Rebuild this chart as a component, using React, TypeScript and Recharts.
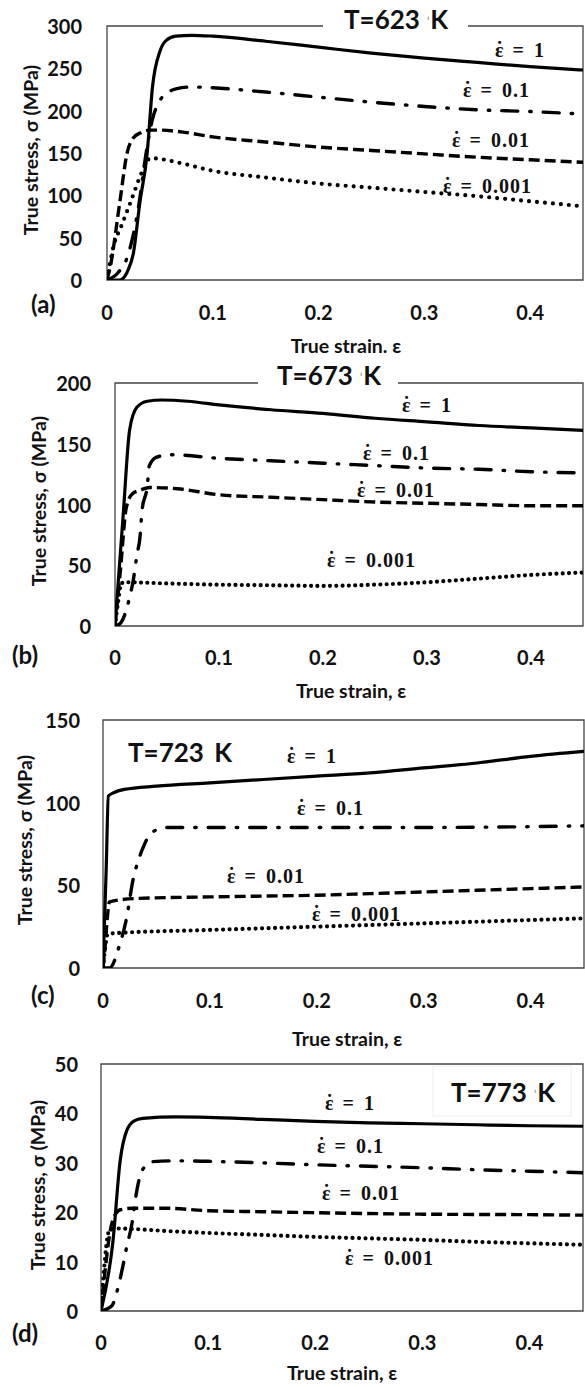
import React from "react";
import { LineChart, Line, XAxis, YAxis, ReferenceArea } from "recharts";

// ---------- data (true strain / true stress, MPa) ----------
const strainTicks = [0, 0.1, 0.2, 0.3, 0.4];
const rateLabels = ["1", "0.1", "0.01", "0.001"];

// (a) T = 623 K
const aStrain1 = [0, 0.012, 0.02, 0.025, 0.031, 0.038, 0.043, 0.05, 0.056, 0.065, 0.08, 0.1, 0.15, 0.2, 0.25, 0.3, 0.35, 0.4, 0.45];
const aStress1 = [0, 0, 12, 32, 91, 150, 228, 270, 283, 288, 289, 288, 282, 275, 268, 262, 257, 252, 248];
const aStrain2 = [0, 0.01, 0.02, 0.03, 0.037, 0.043, 0.05, 0.058, 0.066, 0.08, 0.1, 0.15, 0.2, 0.25, 0.3, 0.35, 0.4, 0.45];
const aStress2 = [0, 8, 30, 88, 150, 190, 212, 222, 226, 228, 227, 222, 216, 210, 205, 201, 199, 196];
const aStrain3 = [0, 0.003, 0.012, 0.019, 0.025, 0.032, 0.041, 0.05, 0.07, 0.1, 0.15, 0.2, 0.25, 0.3, 0.35, 0.4, 0.45];
const aStress3 = [0, 15, 91, 150, 168, 174, 177, 177, 175, 169, 163, 157, 153, 149, 145, 142, 139];
const aStrain4 = [0, 0.006, 0.014, 0.022, 0.034, 0.041, 0.05, 0.07, 0.1, 0.15, 0.2, 0.25, 0.3, 0.35, 0.4, 0.45];
const aStress4 = [0, 39, 65, 91, 130, 144, 143, 138, 129, 121, 114, 109, 104, 99, 93, 87];

// (b) T = 673 K
const bStrain1 = [0, 0.008, 0.014, 0.021, 0.031, 0.045, 0.07, 0.1, 0.15, 0.2, 0.25, 0.3, 0.35, 0.4, 0.45];
const bStress1 = [0, 93, 161, 180, 185, 186, 185, 182, 178, 175, 171, 168, 165, 163, 161];
const bStrain2 = [0, 0.005, 0.013, 0.018, 0.021, 0.024, 0.026, 0.031, 0.033, 0.04, 0.055, 0.1, 0.15, 0.2, 0.25, 0.3, 0.35, 0.4, 0.45];
const bStress2 = [0, 2, 20, 40, 58, 73, 95, 115, 132, 139, 141, 138, 136, 134, 132, 130, 129, 127, 126];
const bStrain3 = [0, 0.005, 0.011, 0.017, 0.025, 0.033, 0.06, 0.1, 0.15, 0.2, 0.25, 0.3, 0.35, 0.4, 0.45];
const bStress3 = [0, 44, 98, 109, 112, 114, 113, 108, 106, 104, 102, 101, 100, 99, 99];
const bStrain4 = [0, 0.003, 0.006, 0.01, 0.05, 0.1, 0.15, 0.2, 0.25, 0.3, 0.35, 0.4, 0.45];
const bStress4 = [0, 20, 35, 36, 35, 34, 33.5, 33, 34, 36, 39, 42, 44];

// (c) T = 723 K
const cStrain1 = [0, 0.003, 0.005, 0.01, 0.02, 0.05, 0.1, 0.15, 0.2, 0.25, 0.3, 0.35, 0.4, 0.45];
const cStress1 = [0, 60, 104, 106, 108, 110, 112, 114, 116, 118, 121, 124, 128, 131];
const cStrain2 = [0, 0.006, 0.016, 0.022, 0.028, 0.033, 0.037, 0.042, 0.046, 0.052, 0.06, 0.1, 0.2, 0.3, 0.4, 0.45];
const cStress2 = [0, 0, 15, 30, 53, 65, 72, 79, 82, 84, 85, 85, 85, 85, 85.5, 86];
const cStrain3 = [0, 0.002, 0.004, 0.006, 0.03, 0.1, 0.15, 0.2, 0.25, 0.3, 0.35, 0.4, 0.45];
const cStress3 = [0, 13, 30, 40, 42, 43, 43.5, 44, 45, 46, 47, 48, 49];
const cStrain4 = [0, 0.002, 0.004, 0.01, 0.1, 0.2, 0.3, 0.4, 0.45];
const cStress4 = [0, 12, 20, 21, 23, 25, 27, 29, 30];

// (d) T = 773 K
const dStrain1 = [0, 0.011, 0.018, 0.024, 0.031, 0.039, 0.07, 0.1, 0.15, 0.2, 0.25, 0.3, 0.35, 0.4, 0.45];
const dStress1 = [0, 13.8, 30.6, 36.5, 38.5, 39, 39.3, 39.2, 38.8, 38.4, 38.1, 37.9, 37.7, 37.5, 37.4];
const dStrain2 = [0, 0.01, 0.015, 0.021, 0.024, 0.029, 0.032, 0.036, 0.042, 0.047, 0.07, 0.1, 0.15, 0.2, 0.25, 0.3, 0.35, 0.4, 0.45];
const dStress2 = [0, 1, 4, 9.7, 13, 17.8, 22.5, 27, 29.5, 30.2, 30.4, 30.3, 30, 29.6, 29.3, 29, 28.6, 28.3, 28];
const dStrain3 = [0, 0.011, 0.018, 0.03, 0.06, 0.1, 0.15, 0.2, 0.3, 0.4, 0.45];
const dStress3 = [0, 18.4, 20.5, 20.8, 20.8, 20.3, 20.1, 19.9, 19.6, 19.5, 19.4];
const dStrain4 = [0, 0.008, 0.015, 0.03, 0.06, 0.1, 0.15, 0.2, 0.25, 0.3, 0.35, 0.4, 0.45];
const dStress4 = [0, 16.4, 16.7, 16.6, 16.2, 15.8, 15.4, 15, 14.7, 14.4, 14, 13.7, 13.4];

const aTicksY = [0, 50, 100, 150, 200, 250, 300];
const bTicksY = [0, 50, 100, 150, 200];
const cTicksY = [0, 50, 100, 150];
const dTicksY = [0, 10, 20, 30, 40, 50];

// ---------- helpers ----------
const SANS = "Lato, 'Open Sans', sans-serif";
const SERIF = "'Liberation Serif', 'DejaVu Serif', serif";
const zip = (xs: number[], ys: number[]) => xs.map((x, i) => ({ x, y: ys[i] }));

const styles = [
  { strokeWidth: 3.2, strokeDasharray: undefined as any, strokeLinecap: "round" },
  { strokeWidth: 3.4, strokeDasharray: "16 12 1.5 12", strokeLinecap: "round" },
  { strokeWidth: 3.4, strokeDasharray: "11 5", strokeLinecap: "butt" },
  { strokeWidth: 4.2, strokeDasharray: "0 6.5", strokeLinecap: "round" },
];

type PanelProps = {
  top: number;
  height: number;
  plotTop: number;
  plotBottom: number;
  left: number;
  right: number;
  ymax: number;
  yTicks: number[];
  series: { x: number; y: number }[][];
  xOff: number;
  yGap: number;
  dotGap: number;
};

function Panel(p: PanelProps) {
  const xH = p.height - p.plotBottom;
  const xTick = (props: any) => (
    <text x={props.x} y={props.y + p.xOff} textAnchor="middle" dominantBaseline="central"
      fontFamily={SANS} fontWeight={700} fontSize={20} fill="#111">{String(props.payload.value)}</text>
  );
  const yTick = (props: any) => (
    <text x={props.x - p.yGap} y={props.y} textAnchor="end" dominantBaseline="central"
      fontFamily={SANS} fontWeight={700} fontSize={20} fill="#111">{String(props.payload.value)}</text>
  );
  return (
    <div style={{ position: "absolute", left: 0, top: p.top }}>
      <LineChart width={585} height={p.height}
        margin={{ top: p.plotTop, right: 585 - p.right, bottom: 0, left: 0 }}>
        <XAxis type="number" dataKey="x" domain={[0, 0.45]} ticks={strainTicks} allowDataOverflow
          tickLine={false} axisLine={false} tickSize={0} tickMargin={0} height={xH} interval={0} tick={xTick} />
        <YAxis type="number" domain={[0, p.ymax]} ticks={p.yTicks} allowDataOverflow
          tickLine={false} axisLine={false} tickSize={0} tickMargin={0} width={p.left} interval={0} tick={yTick} />
        <ReferenceArea x1={0} x2={0.45} y1={0} y2={p.ymax} fill="#fff" fillOpacity={0}
          stroke="#444" strokeWidth={1.3} />
        {p.series.map((d, i) => (
          <Line key={i} data={d} dataKey="y" type="monotone" stroke="#000" dot={false}
            isAnimationActive={false} strokeWidth={styles[i].strokeWidth}
            strokeDasharray={i === 3 ? `0 ${p.dotGap}` : styles[i].strokeDasharray}
            strokeLinecap={styles[i].strokeLinecap as any} />
        ))}
      </LineChart>
    </div>
  );
}

function RateLabel({ x, y, r }: { x: number; y: number; r: string }) {
  return (
    <text x={x} y={y} fontFamily={SERIF} fontWeight={700} fontSize={20} wordSpacing={3} fill="#111">
      ε<tspan dx={-7.2} dy={-1}>˙</tspan><tspan dx={0.5} dy={1} letterSpacing={1}>{" = " + r}</tspan>
    </text>
  );
}

function YTitle({ x, y }: { x: number; y: number }) {
  return (
    <text x={x} y={y} transform={`rotate(-90 ${x} ${y})`} textAnchor="middle" dominantBaseline="central"
      fontFamily={SANS} fontWeight={700} fontSize={19.5} fill="#111">True stress, σ (MPa)</text>
  );
}

function XTitle({ x, y, t }: { x: number; y: number; t: string }) {
  return (
    <text x={x} y={y} textAnchor="middle" fontFamily={SANS} fontWeight={700} fontSize={19.5} fill="#111">{t}</text>
  );
}

function Tag({ x, y, t }: { x: number; y: number; t: string }) {
  return (
    <text x={x} y={y} fontFamily={SANS} fontWeight={700} fontSize={24} fill="#111">{t}</text>
  );
}

function Temp({ x, y, t, anchor }: { x: number; y: number; t: string; anchor: string }) {
  return (
    <text x={x} y={y} textAnchor={anchor as any} fontFamily={SANS} fontWeight={700} fontSize={26} fill="#111">
      {"T=" + t + " "}<tspan fill="#999" fontWeight={400} fontSize={16}>ˈ</tspan>K
    </text>
  );
}

export default function App() {
  return (
    <div style={{ position: "absolute", left: 0, top: 0, width: 585, height: 1387, background: "#fff" }}>
      <Panel top={0} height={330} plotTop={26} plotBottom={280} left={107} right={583} ymax={300}
        yTicks={aTicksY} xOff={32} yGap={25} dotGap={8}
        series={[zip(aStrain1, aStress1), zip(aStrain2, aStress2), zip(aStrain3, aStress3), zip(aStrain4, aStress4)]} />
      <Panel top={340} height={330} plotTop={43} plotBottom={286} left={115} right={583} ymax={200}
        yTicks={bTicksY} xOff={31} yGap={24} dotGap={6.3}
        series={[zip(bStrain1, bStress1), zip(bStrain2, bStress2), zip(bStrain3, bStress3), zip(bStrain4, bStress4)]} />
      <Panel top={690} height={330} plotTop={30} plotBottom={278} left={103} right={584} ymax={150}
        yTicks={cTicksY} xOff={32} yGap={23} dotGap={6.5}
        series={[zip(cStrain1, cStress1), zip(cStrain2, cStress2), zip(cStrain3, cStress3), zip(cStrain4, cStress4)]} />
      <Panel top={1040} height={330} plotTop={24} plotBottom={271} left={101} right={583} ymax={50}
        yTicks={dTicksY} xOff={31} yGap={23} dotGap={6.5}
        series={[zip(dStrain1, dStress1), zip(dStrain2, dStress2), zip(dStrain3, dStress3), zip(dStrain4, dStress4)]} />

      <svg width={585} height={1387} style={{ position: "absolute", left: 0, top: 0, pointerEvents: "none" }}>
        {/* panel (a) */}
        <rect x={323} y={2} width={145} height={40} fill="#fff" />
        <Temp x={396} y={29} t="623" anchor="middle" />
        <RateLabel x={495} y={57} r={rateLabels[0]} />
        <RateLabel x={463} y={97} r={rateLabels[1]} />
        <RateLabel x={452} y={147} r={rateLabels[2]} />
        <RateLabel x={443} y={193} r={rateLabels[3]} />
        <YTitle x={30} y={150} />
        <Tag x={31} y={313} t="(a)" />
        <XTitle x={346} y={353} t="True strain. ε" />

        {/* panel (b) */}
        <rect x={258} y={360} width={140} height={32} fill="#fff" />
        <Temp x={329} y={385} t="673" anchor="middle" />
        <RateLabel x={402} y={412} r={rateLabels[0]} />
        <RateLabel x={363} y={460} r={rateLabels[1]} />
        <RateLabel x={357} y={497} r={rateLabels[2]} />
        <RateLabel x={327} y={567} r={rateLabels[3]} />
        <YTitle x={38} y={501} />
        <Tag x={12} y={664} t="(b)" />
        <XTitle x={351} y={698} t="True strain, ε" />

        {/* panel (c) */}
        <text x={128} y={762} fontFamily={SANS} fontWeight={700} fontSize={26} fill="#111" wordSpacing={4}>T=723 K</text>
        <RateLabel x={287} y={763} r={rateLabels[0]} />
        <RateLabel x={297} y={815} r={rateLabels[1]} />
        <RateLabel x={227} y={883} r={rateLabels[2]} />
        <RateLabel x={312} y={921} r={rateLabels[3]} />
        <YTitle x={24} y={840} />
        <Tag x={31} y={1004} t="(c)" />
        <XTitle x={347} y={1046} t="True strain, ε" />

        {/* panel (d) */}
        <rect x={433} y={1066} width={138} height={50} fill="#fff" stroke="#eee" />
        <Temp x={503} y={1102} t="773" anchor="middle" />
        <RateLabel x={325} y={1110} r={rateLabels[0]} />
        <RateLabel x={317} y={1153} r={rateLabels[1]} />
        <RateLabel x={322} y={1200} r={rateLabels[2]} />
        <RateLabel x={345} y={1265} r={rateLabels[3]} />
        <YTitle x={37} y={1185} />
        <Tag x={12} y={1342} t="(d)" />
        <XTitle x={342} y={1380} t="True strain, ε" />
      </svg>
    </div>
  );
}
